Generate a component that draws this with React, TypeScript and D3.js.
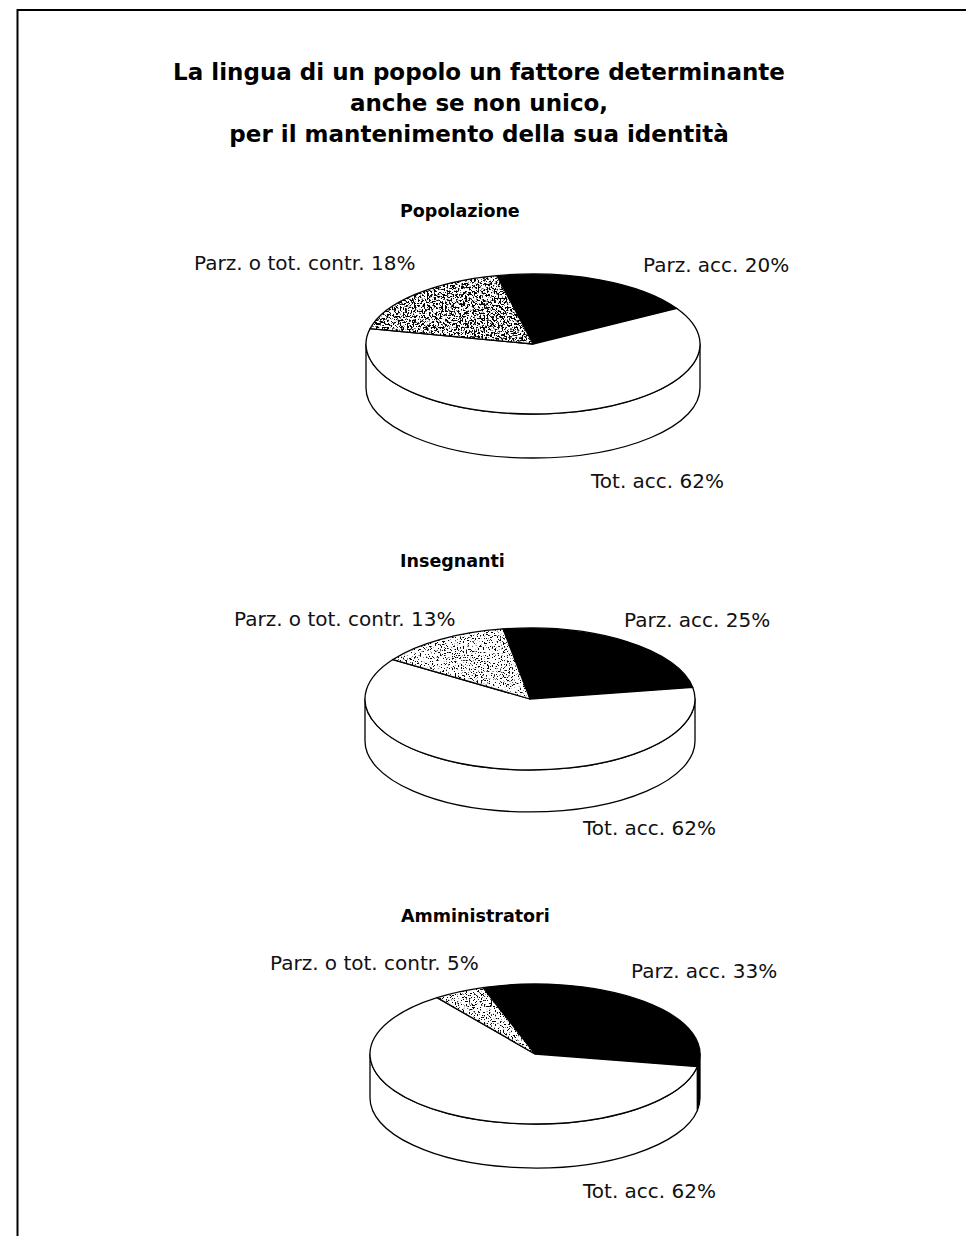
import React from "react";
import * as d3 from "d3";

// Survey answers, in percent, per respondent group
const groups = ["Popolazione", "Insegnanti", "Amministratori"];
const categories = ["Parz. acc.", "Tot. acc.", "Parz. o tot. contr."];
const popolazione = [20, 62, 18];
const insegnanti = [25, 62, 13];
const amministratori = [33, 62, 5];
const seriesValues = [popolazione, insegnanti, amministratori];

const titleLines = [
  "La lingua di un popolo un fattore determinante",
  "anche se non unico,",
  "per il mantenimento della sua identità",
];

// Drawing layout for each pie (centre, radii, thickness, first-slice angle in degrees)
const pieLayout = [
  { cx: 533, cy: 344, rx: 167, ry: 70, depth: 44, rot: -12.5, titleX: 400, titleY: 217,
    labels: [[643, 272], [591, 488], [194, 270]], speckle: 0.5, freq: 0.55 },
  { cx: 530, cy: 699, rx: 165, ry: 71, depth: 42, rot: -9.4, titleX: 400, titleY: 567,
    labels: [[624, 627], [583, 835], [234, 626]], speckle: 0.41, freq: 0.65 },
  { cx: 535, cy: 1054, rx: 165, ry: 70, depth: 44, rot: -18.4, titleX: 401, titleY: 922,
    labels: [[631, 978], [583, 1198], [270, 970]], speckle: 0.42, freq: 0.65 },
];

const fills = ["#000", "#fff", "speckle"];
const FONT = "'DejaVu Sans', Verdana, sans-serif";

function pt(l: any, a: number, dy = 0): [number, number] {
  return [l.cx + l.rx * Math.sin(a), l.cy - l.ry * Math.cos(a) + dy];
}

function topPath(l: any, a0: number, a1: number) {
  const p0 = pt(l, a0);
  const p1 = pt(l, a1);
  const large = a1 - a0 > Math.PI ? 1 : 0;
  return `M${l.cx},${l.cy}L${p0[0]},${p0[1]}A${l.rx},${l.ry} 0 ${large} 1 ${p1[0]},${p1[1]}Z`;
}

// Visible front wall of a slice: the part of [a0,a1] lying in (π/2, 3π/2) mod 2π
function sidePaths(l: any, a0: number, a1: number) {
  const out: string[] = [];
  for (let k = -2; k <= 2; k++) {
    const lo = Math.PI / 2 + 2 * Math.PI * k;
    const hi = (3 * Math.PI) / 2 + 2 * Math.PI * k;
    const s = Math.max(a0, lo);
    const e = Math.min(a1, hi);
    if (e - s > 1e-4) {
      const p0 = pt(l, s);
      const p1 = pt(l, e);
      const q1 = pt(l, e, l.depth);
      const q0 = pt(l, s, l.depth);
      out.push(
        `M${p0[0]},${p0[1]}A${l.rx},${l.ry} 0 0 1 ${p1[0]},${p1[1]}L${q1[0]},${q1[1]}A${l.rx},${l.ry} 0 0 0 ${q0[0]},${q0[1]}Z`
      );
    }
  }
  return out;
}

function Pie3D({ idx }: { idx: number }) {
  const l = pieLayout[idx];
  const values = seriesValues[idx];
  const start = (l.rot * Math.PI) / 180;
  const arcs = d3
    .pie<number>()
    .sort(null)
    .startAngle(start)
    .endAngle(start + 2 * Math.PI)(values);

  const fillFor = (i: number) => (fills[i] === "speckle" ? "#fff" : fills[i]);

  return (
    <g>
      <text x={l.titleX} y={l.titleY} fontFamily={FONT} fontWeight={700} fontSize={17.5}>
        {groups[idx]}
      </text>
      {arcs.map((a, i) =>
        sidePaths(l, a.startAngle, a.endAngle).map((d, j) => (
          <path key={`s${i}-${j}`} d={d} fill={fillFor(i)} stroke="#000" strokeWidth={1.3} strokeLinejoin="round" />
        ))
      )}
      {arcs.map((a, i) => {
        const d = topPath(l, a.startAngle, a.endAngle);
        if (fills[i] === "speckle") {
          return (
            <g key={`t${i}`}>
              <clipPath id={`clip${idx}`}>
                <path d={d} />
              </clipPath>
              <path d={d} fill="#fff" />
              <rect
                x={l.cx - l.rx}
                y={l.cy - l.ry}
                width={2 * l.rx}
                height={2 * l.ry}
                filter={`url(#speckle${idx})`}
                clipPath={`url(#clip${idx})`}
              />
              <path d={d} fill="none" stroke="#000" strokeWidth={1.3} strokeLinejoin="round" />
            </g>
          );
        }
        return <path key={`t${i}`} d={d} fill={fillFor(i)} stroke="#000" strokeWidth={1.3} strokeLinejoin="round" />;
      })}
      {arcs.map((a, i) => (
        <text key={`l${i}`} x={l.labels[i][0]} y={l.labels[i][1]} fontFamily={FONT} fontSize={20} fill="#111">
          {`${categories[i]} ${values[i]}%`}
        </text>
      ))}
    </g>
  );
}

export default function App() {
  return (
    <svg
      width={966}
      height={1236}
      viewBox="0 0 966 1236"
      style={{ position: "absolute", left: 0, top: 0, display: "block", background: "#fff" }}
    >
      <defs>
        {pieLayout.map((l, i) => (
          <filter key={i} id={`speckle${i}`} x="0" y="0" width="100%" height="100%" filterUnits="objectBoundingBox">
            <feTurbulence type="fractalNoise" baseFrequency={l.freq} numOctaves={3} seed={i * 7 + 3} result="noise" />
            <feColorMatrix
              in="noise"
              type="matrix"
              values={`0 0 0 0 0  0 0 0 0 0  0 0 0 0 0  -14 0 0 0 ${(14 * l.speckle).toFixed(3)}`}
            />
          </filter>
        ))}
      </defs>
      <rect x={0} y={0} width={966} height={1236} fill="#fff" />
      <path d="M17.5,1236V10H966" fill="none" stroke="#000" strokeWidth={2} />
      {titleLines.map((t, i) => (
        <text
          key={i}
          x={479}
          y={80 + i * 31}
          textAnchor="middle"
          fontFamily={FONT}
          fontWeight={700}
          fontSize={23}
        >
          {t}
        </text>
      ))}
      {groups.map((g, i) => (
        <Pie3D key={g} idx={i} />
      ))}
    </svg>
  );
}
